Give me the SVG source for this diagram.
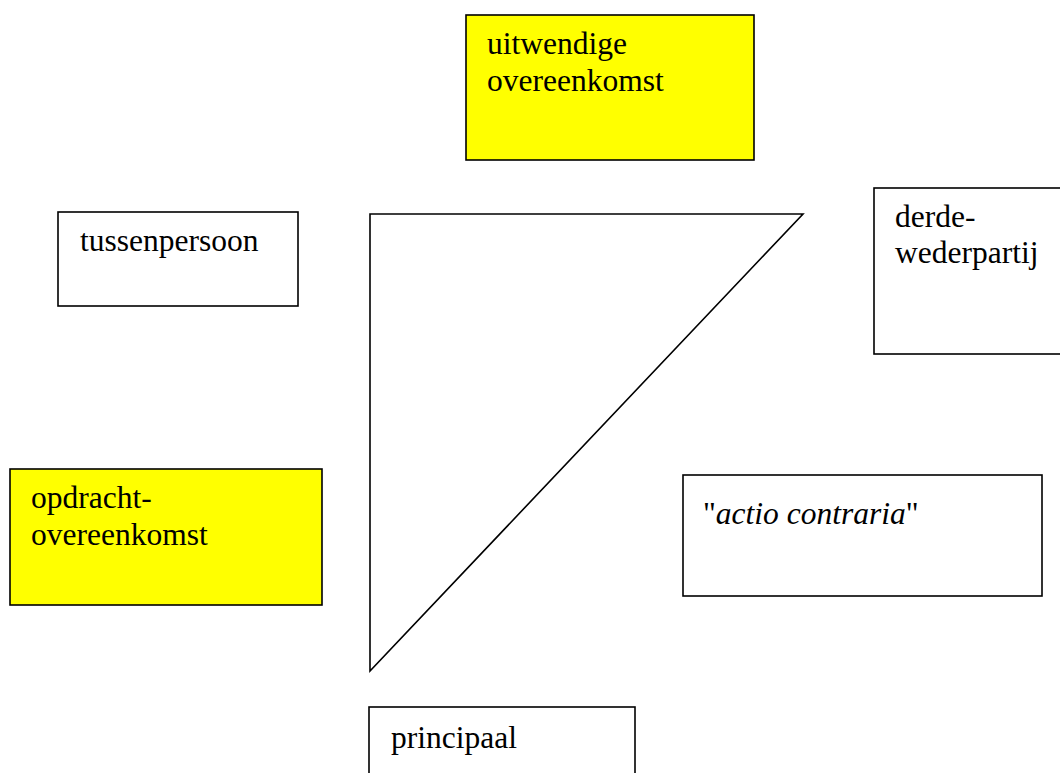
<svg xmlns="http://www.w3.org/2000/svg" width="1060" height="773" viewBox="0 0 1060 773">
  <style>
    .box { fill: #ffffff; stroke: #000000; stroke-width: 1.6; }
    .hl { fill: #ffff00; stroke: #000000; stroke-width: 1.6; }
    .lbl { font-size: 31.5px; fill: #000000; }
    .edge { fill: none; stroke: #000000; stroke-width: 1.6; stroke-linejoin: miter; }
  </style>
  <rect width="1060" height="773" fill="#ffffff"/>

  <!-- connectors: the triangle joining the three parties -->
  <g id="connectors">
    <path class="edge" d="M370,214 L803,214 L370,671 Z"/>
  </g>

  <g font-family="Liberation Serif, DejaVu Serif, serif">
    <g id="uitwendige-overeenkomst">
      <rect class="hl" x="466" y="15" width="288" height="145"/>
      <text class="lbl" x="487" y="54">uitwendige</text>
      <text class="lbl" x="487" y="91">overeenkomst</text>
    </g>

    <g id="tussenpersoon">
      <rect class="box" x="58" y="212" width="240" height="94"/>
      <text class="lbl" x="80" y="251">tussenpersoon</text>
    </g>

    <g id="derde-wederpartij">
      <rect class="box" x="874" y="188" width="200" height="166"/>
      <text class="lbl" x="895" y="227">derde-</text>
      <text class="lbl" x="895" y="263">wederpartij</text>
    </g>

    <g id="opdracht-overeenkomst">
      <rect class="hl" x="10" y="469" width="312" height="136"/>
      <text class="lbl" x="31" y="508">opdracht-</text>
      <text class="lbl" x="31" y="545">overeenkomst</text>
    </g>

    <g id="actio-contraria">
      <rect class="box" x="683" y="475" width="359" height="121"/>
      <text class="lbl" x="703" y="524">"<tspan font-style="italic">actio contraria</tspan>"</text>
    </g>

    <g id="principaal">
      <rect class="box" x="369" y="707" width="266" height="80"/>
      <text class="lbl" x="391" y="748">principaal</text>
    </g>
  </g>
</svg>
